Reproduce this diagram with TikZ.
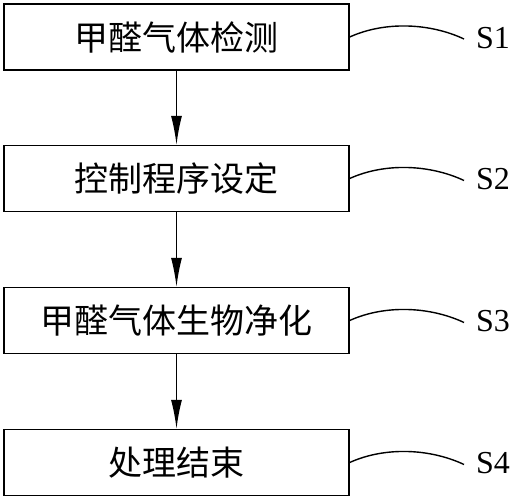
\documentclass[tikz,border=0pt]{standalone}
\usepackage{fontspec}
\setmainfont{Liberation Serif}
\newfontfamily\cjk{Noto Sans CJK SC}
\usetikzlibrary{arrows.meta}
\tikzset{
  stepbox/.style={draw, line width=1.4pt, minimum width=345pt, minimum height=66pt, inner sep=0pt, font=\cjk\fontsize{34}{36}\selectfont},
  flow/.style={line width=1.4pt, -{Latex[length=29pt,width=11pt]}},
  lead/.style={line width=1.4pt},
  slabel/.style={anchor=west, inner sep=0pt, font=\fontsize{32}{36}\selectfont}
}
\begin{document}
\begin{tikzpicture}[x=1pt,y=-1pt]
\useasboundingbox (0,0) rectangle (512,500);
\node[stepbox] (b1) at (176.5,37) {甲醛气体检测};
\node[stepbox] (b2) at (176.5,178.5) {控制程序设定};
\node[stepbox] (b3) at (176.5,320.5) {甲醛气体生物净化};
\node[stepbox] (b4) at (176.5,462.5) {处理结束};
\draw[flow] (b1.south) -- (b2.north);
\draw[flow] (b2.south) -- (b3.north);
\draw[flow] (b3.south) -- (b4.north);
\foreach \i/\y in {1/37,2/178.5,3/320.5,4/462.5}{
  \coordinate (e\i) at (464,\y+2);
  \node[slabel] (s\i) at (476,\y+1) {S\i};
  \draw[lead] (b\i.east) .. controls (385,\y-16) and (430,\y-14) .. (e\i);
}
\end{tikzpicture}
\end{document}
